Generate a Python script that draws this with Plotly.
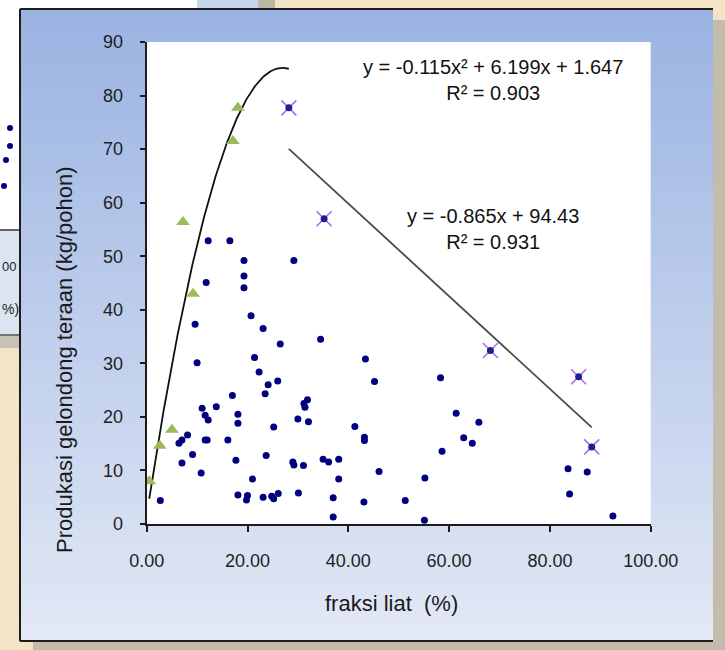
import numpy as np
import plotly.graph_objects as go

# ---------------------------------------------------------------------------
# Data: clay fraction (%) vs. log-yield per tree (kg/pohon)
# ---------------------------------------------------------------------------
# samples following the rising (quadratic) trend
tri_x = [0.5, 2.6, 5.0, 7.2, 9.2, 17.1, 18.1]
tri_y = [8.0, 14.6, 17.6, 56.4, 43.0, 71.5, 77.7]

# samples following the falling (linear) trend
crs_x = [28.2, 35.2, 68.2, 85.7, 88.3]
crs_y = [77.7, 57.0, 32.4, 27.5, 14.4]

# all remaining samples
pts_x = [12.2, 16.5, 19.3, 29.2, 19.3, 11.8, 19.3, 20.7, 9.6, 23.1,
         26.5, 34.5, 21.4, 10.0, 22.3, 24.1, 26.0, 23.5, 17.0, 11.0,
         13.8, 11.6, 12.2, 18.1, 18.1, 25.2, 30.0, 32.1, 31.2, 31.9,
         31.4, 8.1, 7.0, 6.4, 11.6, 12.0, 16.1, 9.1, 7.0, 10.8,
         17.7, 23.7, 29.0, 29.2, 31.1, 21.0, 18.1, 20.0, 19.8, 23.1,
         24.8, 25.2, 26.1, 30.1, 2.7, 43.4, 45.2, 58.3, 61.4, 65.9,
         41.3, 43.2, 43.2, 62.9, 64.6, 58.6, 35.0, 36.1, 38.1, 38.1,
         46.1, 55.2, 37.0, 43.1, 51.3, 37.0, 55.1, 83.6, 87.4, 83.9,
         92.5]
pts_y = [52.9, 52.9, 49.2, 49.2, 46.3, 45.1, 44.1, 38.9, 37.3, 36.5,
         33.6, 34.5, 31.1, 30.1, 28.4, 26.0, 26.7, 24.3, 24.0, 21.6,
         21.9, 20.3, 19.4, 20.5, 18.8, 18.1, 19.6, 19.1, 22.5, 23.2,
         21.8, 16.6, 15.7, 15.1, 15.7, 15.7, 15.7, 13.0, 11.4, 9.5,
         11.9, 12.8, 11.6, 11.0, 10.9, 8.4, 5.4, 5.3, 4.5, 5.0,
         5.2, 4.7, 5.7, 5.8, 4.4, 30.8, 26.6, 27.3, 20.7, 19.0,
         18.2, 16.2, 15.6, 16.1, 15.1, 13.6, 12.1, 11.6, 12.1, 8.4,
         9.8, 8.6, 4.9, 4.1, 4.4, 1.3, 0.7, 10.3, 9.7, 5.6,
         1.5]

# trendline coefficients and the x span each one covers
quad_coef = [-0.115, 6.199, 1.647]
quad_r2 = 0.903
quad_span = [0.5, 28.2]
lin_coef = [-0.865, 94.43]
lin_r2 = 0.931
lin_span = [28.2, 88.3]

x_ticks = [0, 20, 40, 60, 80, 100]
y_ticks = [0, 10, 20, 30, 40, 50, 60, 70, 80, 90]

# points of the neighbouring chart peeking in at the left edge
frag_x = [10, 10, 6, 4]
frag_y = [20.4, 16.8, 14.0, 8.8]

# ---------------------------------------------------------------------------
W, H = 725, 650
FONT = "Liberation Sans, Arial, sans-serif"


def fx(p):
    return p / W


def fy(p):
    return 1 - p / H


shapes = []


def rect(x0, y0, x1, y1, color):
    shapes.append(dict(type="rect", xref="paper", yref="paper",
                       x0=fx(x0), x1=fx(x1), y0=fy(y1), y1=fy(y0),
                       fillcolor=color, line_width=0, layer="below"))


def hline(x0, x1, y, color="#1c1c1c", w=2):
    shapes.append(dict(type="line", xref="paper", yref="paper",
                       x0=fx(x0), x1=fx(x1), y0=fy(y), y1=fy(y),
                       line=dict(color=color, width=w), layer="below"))


def vline(x, y0, y1, color="#1c1c1c", w=2):
    shapes.append(dict(type="line", xref="paper", yref="paper",
                       x0=fx(x), x1=fx(x), y0=fy(y0), y1=fy(y1),
                       line=dict(color=color, width=w), layer="below"))


# surroundings of the chart frame
rect(0, 0, 197, 9, "#FFFFFF")
rect(197, 0, 258, 9, "#C7D5EC")
rect(258, 0, 275, 9, "#BDB5A6")
rect(0, 0, 20, 230, "#FFFFFF")
rect(0, 230, 20, 334, "#DCE4F1")
rect(0, 335, 20, 348, "#C9C3B6")
hline(0, 20, 230, "#333333", 1.5)
hline(0, 20, 335, "#555555", 1.5)
rect(713, 20, 725, 650, "#C3BBAB")
rect(33, 642, 725, 650, "#C2BAAA")

# vertical blue gradient of the chart area
top_c = np.array([154, 179, 226])
bot_c = np.array([226, 232, 245])
n_band = 64
y_top, y_bot = 9, 641
edges = np.linspace(y_top, y_bot, n_band + 1)
for i in range(n_band):
    t = i / (n_band - 1)
    c = (top_c + (bot_c - top_c) * t).round().astype(int)
    rect(20, edges[i], 713, edges[i + 1] + 0.6, "rgb(%d,%d,%d)" % tuple(c))

# frame of the chart area
hline(20, 713, 9)
vline(20, 9, 641)
hline(20, 713, 641)

# white plot area
PX0, PX1, PY0, PY1 = 146.7, 650.7, 42, 524
rect(PX0, PY0, PX1, PY1, "#FFFFFF")

fig = go.Figure()

# trendlines
qx = np.linspace(quad_span[0], quad_span[1], 200)
qy = np.polyval(quad_coef, qx)
fig.add_trace(go.Scatter(x=qx, y=qy, mode="lines",
                         line=dict(color="#111111", width=1.8),
                         hoverinfo="skip"))
lx = np.array(lin_span)
ly = np.polyval(lin_coef, lx)
fig.add_trace(go.Scatter(x=lx, y=ly, mode="lines",
                         line=dict(color="#4a4a4a", width=1.8),
                         hoverinfo="skip"))

# scatter groups
fig.add_trace(go.Scatter(x=pts_x, y=pts_y, mode="markers",
                         marker=dict(symbol="circle", size=7, color="#00007F")))
fig.add_trace(go.Scatter(x=crs_x, y=crs_y, mode="markers",
                         marker=dict(symbol="x-thin-open", size=15,
                                     line=dict(color="#B4A4DC", width=1.5))))
fig.add_trace(go.Scatter(x=crs_x, y=crs_y, mode="markers",
                         marker=dict(symbol="circle", size=7, color="#1F1F8C")))
fig.add_trace(go.Scatter(x=tri_x, y=tri_y, mode="markers",
                         marker=dict(symbol="triangle-up", size=12,
                                     color="#9BBB59")))

# neighbouring chart fragment
fig.add_trace(go.Scatter(x=frag_x, y=frag_y, mode="markers", xaxis="x2",
                         yaxis="y2", cliponaxis=False,
                         marker=dict(symbol="circle", size=6, color="#00007F")))

tick_font = dict(family=FONT, size=18, color="#1e1e1e")

fig.update_layout(
    width=W, height=H,
    autosize=False,
    margin=dict(l=0, r=0, t=0, b=0, pad=0, autoexpand=False),
    paper_bgcolor="#F4E4C6",
    plot_bgcolor="rgba(0,0,0,0)",
    showlegend=False,
    shapes=shapes,
    xaxis=dict(domain=[fx(PX0), fx(PX1)], range=[0, 100],
               tickvals=x_ticks, tickformat=".2f", automargin=False,
               showgrid=False, zeroline=False,
               showline=True, linecolor="#1c1c1c", linewidth=2,
               ticks="outside", ticklen=6, tickwidth=2, tickcolor="#1c1c1c",
               tickfont=tick_font, ticklabelstandoff=13),
    yaxis=dict(domain=[fy(PY1), fy(PY0)], range=[0, 90],
               tickvals=y_ticks, automargin=False,
               showgrid=False, zeroline=False,
               showline=True, linecolor="#1c1c1c", linewidth=2,
               ticks="outside", ticklen=5, tickwidth=2, tickcolor="#1c1c1c",
               tickfont=tick_font, ticklabelstandoff=13),
    xaxis2=dict(domain=[0, fx(20)], range=[0, 20], visible=False,
                automargin=False, anchor="y2"),
    yaxis2=dict(domain=[fy(230), fy(10)], range=[0, 44], visible=False,
                automargin=False, anchor="x2"),
)


def eq_note(text, x, y, size=20):
    fig.add_annotation(text=text, x=x, y=y, xref="x", yref="y",
                       showarrow=False, xanchor="center", yanchor="middle",
                       font=dict(family=FONT, size=size, color="#111111"))


def poly_label(c):
    return "y = %.3fx² + %.3fx + %.3f" % tuple(c)


def lin_label(c):
    return "y = %.3fx + %.2f" % tuple(c)


eq_x = 68.7
eq_note(poly_label(quad_coef) + "<br>R² = %.3f" % quad_r2, eq_x, 82.9)
eq_note(lin_label(lin_coef) + "<br>R² = %.3f" % lin_r2, eq_x, 55.1)

# axis titles
fig.add_annotation(text="fraksi liat  (%)", x=fx(392), y=fy(603),
                   xref="paper", yref="paper", showarrow=False,
                   xanchor="center", yanchor="middle",
                   font=dict(family=FONT, size=22, color="#1a1a1a"))
fig.add_annotation(text="Produkasi gelondong teraan (kg/pohon)",
                   x=fx(64), y=fy(360), xref="paper", yref="paper",
                   showarrow=False, textangle=-90,
                   xanchor="center", yanchor="middle",
                   font=dict(family=FONT, size=22, color="#1a1a1a"))

# tick label remnants of the neighbouring chart
fig.add_annotation(text="00", x=fx(1), y=fy(266), xref="paper", yref="paper",
                   showarrow=False, xanchor="left", yanchor="middle",
                   borderpad=0,
                   font=dict(family=FONT, size=13, color="#1e1e1e"))
fig.add_annotation(text="%)", x=fx(1), y=fy(309), xref="paper", yref="paper",
                   showarrow=False, xanchor="left", yanchor="middle",
                   borderpad=0,
                   font=dict(family=FONT, size=14, color="#1e1e1e"))

fig.write_html("out.html")
